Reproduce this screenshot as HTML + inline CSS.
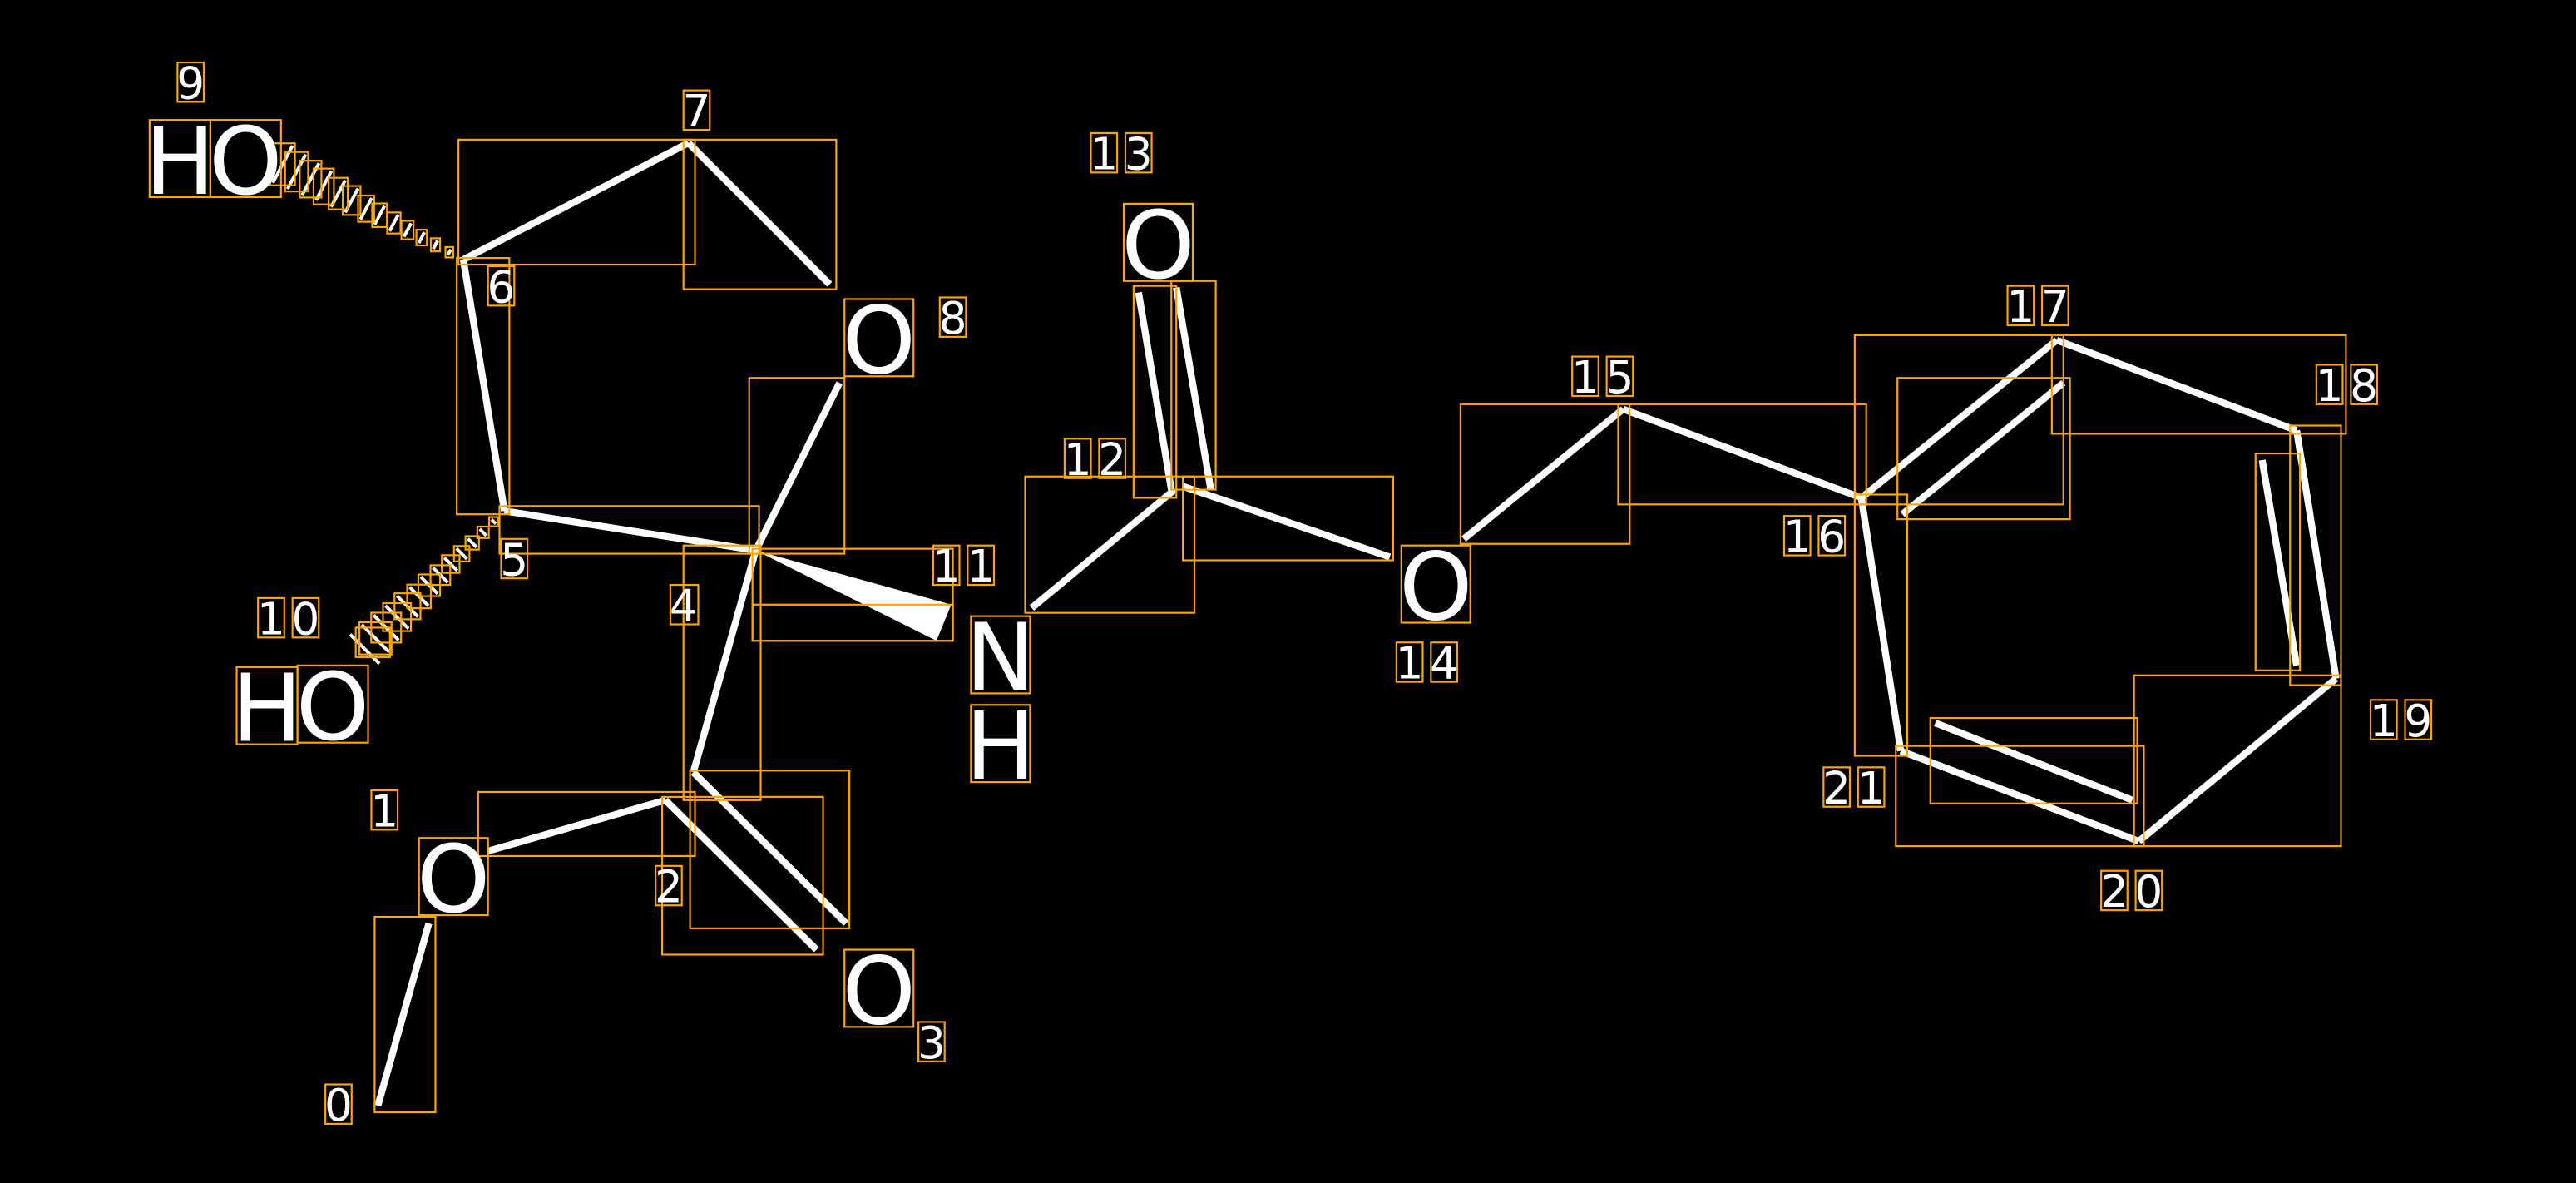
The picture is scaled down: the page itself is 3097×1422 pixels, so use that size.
<!DOCTYPE html>
<html><head><meta charset="utf-8"><style>
html,body{margin:0;padding:0;background:#000;}
svg{display:block;}
</style></head><body>
<svg width="3097" height="1422" viewBox="0 0 1568 720" xmlns="http://www.w3.org/2000/svg">
<rect width="1568" height="720" fill="#000"/>
<g stroke="#fff" stroke-width="4.2" stroke-linecap="butt" fill="none">
<line x1="230" y1="673" x2="261" y2="562"/>
<line x1="297" y1="518" x2="405" y2="487"/>
<line x1="422" y1="470" x2="515" y2="562"/>
<line x1="405" y1="487" x2="497" y2="578"/>
<line x1="422" y1="470" x2="460" y2="335"/>
<line x1="460" y1="335" x2="307" y2="311"/>
<line x1="307" y1="311" x2="282" y2="158"/>
<line x1="282" y1="158" x2="419" y2="87"/>
<line x1="419" y1="87" x2="505" y2="173"/>
<line x1="460" y1="335" x2="511" y2="233"/>
<line x1="628" y1="370" x2="715" y2="298"/>
<line x1="693" y1="178" x2="713" y2="298"/>
<line x1="716" y1="175" x2="737" y2="298"/>
<line x1="720" y1="296" x2="846" y2="339"/>
<line x1="891" y1="328" x2="988" y2="249"/>
<line x1="988" y1="249" x2="1133" y2="303"/>
<line x1="1133" y1="303" x2="1252" y2="207"/>
<line x1="1158" y1="313" x2="1256" y2="233"/>
<line x1="1252" y1="207" x2="1398" y2="262"/>
<line x1="1398" y1="262" x2="1422" y2="413"/>
<line x1="1377" y1="280" x2="1398" y2="405"/>
<line x1="1422" y1="413" x2="1302" y2="512"/>
<line x1="1302" y1="512" x2="1157" y2="457"/>
<line x1="1298" y1="487" x2="1178" y2="440"/>
<line x1="1157" y1="457" x2="1133" y2="303"/>
</g>
<polygon points="460,335 579,368 570,390" fill="#fff"/>
<!-- hashed 6->9 -->
<g stroke="#fff" stroke-width="2">
<line x1="272.6" y1="155.2" x2="274.4" y2="151.8"/>
<line x1="263.7" y1="151.5" x2="266.3" y2="146.5"/>
<line x1="254.9" y1="147.9" x2="258.3" y2="141.3"/>
<line x1="245.8" y1="144.1" x2="250.2" y2="135.9"/>
<line x1="237.1" y1="140.6" x2="242.3" y2="130.8"/>
<line x1="228" y1="136.7" x2="234" y2="125.3"/>
<line x1="219.4" y1="133.5" x2="226.2" y2="120.5"/>
<line x1="210.1" y1="129.3" x2="217.9" y2="114.7"/>
<line x1="201.5" y1="125.9" x2="210.1" y2="109.7"/>
<line x1="192.3" y1="121.9" x2="201.7" y2="104.1"/>
<line x1="183.9" y1="118.7" x2="194.1" y2="99.3"/>
<line x1="175" y1="115" x2="186" y2="94"/>
<line x1="166" y1="111.3" x2="178" y2="88.7"/>
</g>
<g stroke="#FFA500" stroke-width="1.1" fill="none">
<rect x="271.1" y="150.3" width="4.8" height="6.4"/>
<rect x="262.2" y="145" width="5.6" height="8"/>
<rect x="253.4" y="139.8" width="6.4" height="9.6"/>
<rect x="244.3" y="134.4" width="7.4" height="11.2"/>
<rect x="235.6" y="129.3" width="8.2" height="12.8"/>
<rect x="226.5" y="123.8" width="9" height="14.4"/>
<rect x="217.9" y="119" width="9.8" height="16"/>
<rect x="208.6" y="113.2" width="10.8" height="17.6"/>
<rect x="200" y="108.2" width="11.6" height="19.2"/>
<rect x="190.8" y="102.6" width="12.4" height="21.8"/>
<rect x="182.4" y="97.8" width="13.2" height="22.4"/>
<rect x="173.5" y="92.5" width="14" height="24"/>
<rect x="164.5" y="87.2" width="15" height="25.6"/>
</g>
<!-- hashed 5->10 -->
<g stroke="#fff" stroke-width="2">
<line x1="299.2" y1="316.2" x2="301.8" y2="318.8"/>
<line x1="292" y1="322" x2="296" y2="326"/>
<line x1="284.8" y1="327.8" x2="290" y2="333"/>
<line x1="277.8" y1="333.8" x2="284.2" y2="340.2"/>
<line x1="270.4" y1="339.4" x2="278.2" y2="347.2"/>
<line x1="263.5" y1="345.5" x2="272.5" y2="354.5"/>
<line x1="256.1" y1="351.1" x2="266.3" y2="361.3"/>
<line x1="249.3" y1="357.3" x2="260.7" y2="368.7"/>
<line x1="241.6" y1="362.6" x2="254.4" y2="375.4"/>
<line x1="234.6" y1="368.6" x2="248.6" y2="382.6"/>
<line x1="227.4" y1="374.4" x2="242.6" y2="389.6"/>
<line x1="220.2" y1="380.2" x2="236.8" y2="396.8"/>
<line x1="213.1" y1="386.1" x2="230.9" y2="403.9"/>
</g>
<g stroke="#FFA500" stroke-width="1.1" fill="none">
<rect x="297.7" y="314.7" width="5.6" height="5.6"/>
<rect x="290.5" y="320.5" width="7" height="7"/>
<rect x="283.3" y="326.3" width="8.2" height="8.2"/>
<rect x="276.3" y="332.3" width="9.4" height="9.4"/>
<rect x="268.9" y="337.9" width="10.8" height="10.8"/>
<rect x="262" y="344" width="12" height="12"/>
<rect x="254.6" y="349.6" width="13.2" height="13.2"/>
<rect x="247.8" y="355.8" width="14.4" height="14.4"/>
<rect x="240.1" y="361.1" width="15.8" height="15.8"/>
<rect x="233.1" y="367.1" width="17" height="17"/>
<rect x="225.9" y="372.9" width="18.2" height="18.2"/>
<rect x="218.7" y="378.7" width="19.6" height="19.6"/>
<rect x="216.5" y="382" width="20.8" height="18"/>
</g>
<!-- bond boxes -->
<g stroke="#FFA500" stroke-width="1.1" fill="none">
<rect x="279" y="85" width="144" height="76"/>
<rect x="416" y="85" width="93" height="91"/>
<rect x="278" y="157" width="32" height="156"/>
<rect x="304" y="308" width="158" height="29"/>
<rect x="456" y="230" width="58" height="107"/>
<rect x="458" y="334" width="122" height="56"/>
<rect x="458" y="368" width="122" height="22"/>
<rect x="416" y="332" width="47" height="155"/>
<rect x="291" y="482" width="132" height="39"/>
<rect x="420" y="469" width="97" height="96"/>
<rect x="403" y="485" width="98" height="96"/>
<rect x="228" y="558" width="37" height="119"/>
<rect x="624" y="290" width="103" height="83"/>
<rect x="690" y="174" width="26" height="129"/>
<rect x="713" y="171" width="27" height="127"/>
<rect x="720" y="290" width="128" height="51"/>
<rect x="889" y="246" width="103" height="85"/>
<rect x="985" y="246" width="151" height="61"/>
<rect x="1129" y="204" width="127" height="103"/>
<rect x="1155" y="230" width="105" height="86"/>
<rect x="1249" y="204" width="179" height="60"/>
<rect x="1394" y="259" width="31" height="158"/>
<rect x="1373" y="276" width="27" height="132"/>
<rect x="1299" y="411" width="126" height="104"/>
<rect x="1154" y="454" width="151" height="61"/>
<rect x="1175" y="437" width="126" height="52"/>
<rect x="1129" y="301" width="32" height="159"/>
<!-- atom letter boxes -->
<rect x="91" y="73" width="37" height="47"/>
<rect x="128" y="73" width="43" height="47"/>
<rect x="144" y="406" width="37" height="47"/>
<rect x="181" y="405" width="43" height="47"/>
<rect x="514" y="182" width="42" height="47"/>
<rect x="255" y="510" width="42" height="47"/>
<rect x="514" y="578" width="42" height="47"/>
<rect x="591" y="375" width="36" height="47"/>
<rect x="591" y="429" width="36" height="47"/>
<rect x="684" y="124" width="42" height="47"/>
<rect x="853" y="332" width="42" height="47"/>
</g>
<g fill="#fff" font-family="DejaVu Sans, Liberation Sans, sans-serif" font-size="57" text-anchor="middle">
<text x="109.5" y="118">H</text><text x="149.5" y="118">O</text>
<text x="162.5" y="451">H</text><text x="202.5" y="450">O</text>
<text x="535" y="227">O</text>
<text x="276" y="555">O</text>
<text x="535" y="623">O</text>
<text x="609" y="420">N</text>
<text x="609" y="474">H</text>
<text x="705" y="169">O</text>
<text x="874" y="377">O</text>
</g>
<g fill="#fff" font-family="DejaVu Sans, Liberation Sans, sans-serif" font-size="27" text-anchor="middle" id="nums">
<text x="116" y="60">9</text>
<text x="424" y="77">7</text>
<text x="305" y="184">6</text>
<text x="580" y="203">8</text>
<text x="313" y="350">5</text>
<text x="416" y="378">4</text>
<text x="165" y="386">1</text><text x="186" y="386">0</text>
<text x="576" y="354">1</text><text x="597" y="354">1</text>
<text x="234" y="503">1</text>
<text x="407" y="549">2</text>
<text x="567" y="644">3</text>
<text x="206" y="682">0</text>
<text x="672" y="103">1</text><text x="693" y="103">3</text>
<text x="656" y="289">1</text><text x="677" y="289">2</text>
<text x="858" y="413">1</text><text x="879" y="413">4</text>
<text x="965" y="239">1</text><text x="986" y="239">5</text>
<text x="1094" y="336">1</text><text x="1115" y="336">6</text>
<text x="1230" y="196">1</text><text x="1251" y="196">7</text>
<text x="1418" y="244">1</text><text x="1439" y="244">8</text>
<text x="1451" y="448">1</text><text x="1472" y="448">9</text>
<text x="1287" y="552">2</text><text x="1308" y="552">0</text>
<text x="1118" y="489">2</text><text x="1139" y="489">1</text>
</g>
<g stroke="#FFA500" stroke-width="1.1" fill="none">
<rect x="108" y="38" width="16" height="24"/>
<rect x="416" y="55" width="16" height="24"/>
<rect x="297" y="162" width="16" height="24"/>
<rect x="572" y="181" width="16" height="24"/>
<rect x="305" y="328" width="16" height="24"/>
<rect x="408" y="356" width="17" height="24"/>
<rect x="157" y="364" width="16" height="24"/><rect x="178" y="364" width="16" height="24"/>
<rect x="568" y="332" width="16" height="24"/><rect x="589" y="332" width="16" height="24"/>
<rect x="226" y="481" width="16" height="24"/>
<rect x="399" y="527" width="16" height="24"/>
<rect x="559" y="622" width="16" height="24"/>
<rect x="198" y="660" width="16" height="24"/>
<rect x="664" y="81" width="16" height="24"/><rect x="685" y="81" width="16" height="24"/>
<rect x="648" y="267" width="16" height="24"/><rect x="669" y="267" width="16" height="24"/>
<rect x="850" y="391" width="16" height="24"/><rect x="871" y="391" width="16" height="24"/>
<rect x="957" y="217" width="16" height="24"/><rect x="978" y="217" width="16" height="24"/>
<rect x="1086" y="314" width="16" height="24"/><rect x="1107" y="314" width="16" height="24"/>
<rect x="1222" y="174" width="16" height="24"/><rect x="1243" y="174" width="16" height="24"/>
<rect x="1410" y="222" width="16" height="24"/><rect x="1431" y="222" width="16" height="24"/>
<rect x="1443" y="426" width="16" height="24"/><rect x="1464" y="426" width="16" height="24"/>
<rect x="1279" y="530" width="16" height="24"/><rect x="1300" y="530" width="16" height="24"/>
<rect x="1110" y="467" width="16" height="24"/><rect x="1131" y="467" width="16" height="24"/>
</g>
</svg>
</body></html>
